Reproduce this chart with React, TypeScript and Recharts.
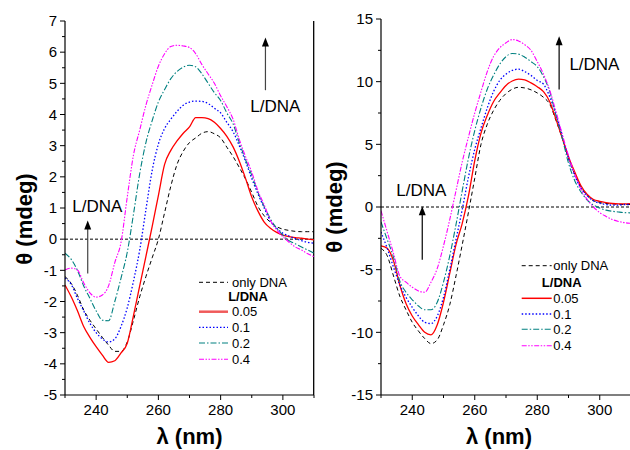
import React from 'react';
import { LineChart, Line, XAxis, YAxis, ReferenceLine, ReferenceDot, Legend } from 'recharts';

const wavelength = [230, 232, 234, 236, 238, 240, 242, 244, 246, 248, 250, 252, 254, 256, 258, 260, 262, 264, 266, 268, 270, 272, 274, 276, 278, 280, 282, 284, 286, 288, 290, 292, 294, 296, 298, 300, 302, 304, 306, 308, 310];

// Left panel
const leftOnlyDNA = [-1.2, -1.42, -1.8, -2.27, -2.6, -2.88, -3.15, -3.4, -3.6, -3.6, -3.3, -2.6, -1.85, -1.2, -0.6, 0.0, 0.85, 1.7, 2.4, 2.82, 3.1, 3.25, 3.4, 3.45, 3.38, 3.25, 2.95, 2.65, 2.3, 1.93, 1.5, 1.05, 0.75, 0.54, 0.4, 0.32, 0.28, 0.25, 0.24, 0.24, 0.24];
const left005 = [-1.47, -1.85, -2.3, -2.8, -3.15, -3.45, -3.72, -3.95, -3.9, -3.65, -3.34, -2.45, -1.5, -0.55, 0.4, 1.4, 2.4, 2.85, 3.15, 3.4, 3.6, 3.9, 3.9, 3.87, 3.75, 3.55, 3.3, 2.96, 2.5, 1.95, 1.35, 0.9, 0.55, 0.35, 0.22, 0.13, 0.08, 0.05, 0.03, 0.0, -0.02];
const left01 = [-1.25, -1.45, -1.9, -2.3, -2.7, -3.0, -3.2, -3.3, -3.2, -2.8, -2.2, -1.35, -0.35, 0.95, 2.2, 3.05, 3.55, 3.85, 4.1, 4.3, 4.4, 4.43, 4.42, 4.35, 4.2, 4.05, 3.75, 3.45, 3.0, 2.5, 1.95, 1.45, 1.0, 0.58, 0.35, 0.19, 0.1, 0.02, -0.05, -0.1, -0.13];
const left02 = [-0.45, -0.65, -1.0, -1.5, -1.9, -2.3, -2.6, -2.62, -2.0, -1.25, -0.42, 0.8, 2.1, 3.1, 3.8, 4.4, 4.8, 5.15, 5.38, 5.52, 5.58, 5.53, 5.3, 5.0, 4.7, 4.45, 4.05, 3.7, 3.1, 2.55, 2.05, 1.5, 1.05, 0.65, 0.35, 0.13, -0.05, -0.15, -0.25, -0.35, -0.45];
const left04 = [-0.99, -0.93, -0.99, -1.4, -1.72, -1.86, -1.79, -1.5, -0.75, -0.1, 1.35, 2.7, 3.5, 4.3, 4.95, 5.55, 5.95, 6.18, 6.22, 6.2, 6.15, 5.95, 5.6, 5.3, 5.0, 4.6, 4.25, 3.85, 3.2, 2.65, 2.15, 1.55, 1.1, 0.6, 0.3, 0.08, -0.1, -0.25, -0.35, -0.47, -0.56];

// Right panel
const rightOnlyDNA = [-3.3, -3.9, -5.5, -7.1, -8.2, -9.2, -9.9, -10.5, -10.9, -10.6, -9.4, -7.8, -5.5, -3.0, -0.4, 2.3, 5.0, 6.6, 7.7, 8.5, 9.05, 9.4, 9.55, 9.5, 9.35, 9.1, 8.75, 8.2, 6.9, 5.5, 3.9, 2.6, 1.6, 0.9, 0.5, 0.35, 0.28, 0.25, 0.22, 0.2, 0.2];
const right005 = [-3.1, -3.3, -4.3, -6.2, -7.7, -8.7, -9.4, -10.0, -10.2, -9.4, -7.6, -5.3, -3.0, -1.3, 0.9, 3.7, 5.9, 7.3, 8.4, 9.1, 9.7, 10.05, 10.2, 10.15, 9.9, 9.6, 9.2, 8.4, 7.0, 5.5, 4.0, 2.8, 1.7, 1.0, 0.6, 0.45, 0.35, 0.28, 0.25, 0.25, 0.27];
const right01 = [-2.0, -3.3, -4.8, -6.2, -7.2, -8.0, -8.7, -9.2, -9.3, -8.7, -7.2, -5.0, -2.6, -0.2, 2.4, 4.6, 6.3, 7.9, 9.2, 10.1, 10.6, 10.9, 11.0, 10.8, 10.5, 10.1, 9.8, 8.8, 7.4, 5.7, 3.9, 2.5, 1.5, 0.9, 0.5, 0.3, 0.2, 0.15, 0.15, 0.2, 0.2];
const right02 = [-1.2, -2.6, -4.0, -5.9, -6.8, -7.4, -7.9, -8.2, -8.2, -7.6, -6.0, -3.9, -1.4, 1.3, 3.9, 6.1, 7.9, 9.4, 10.5, 11.4, 12.0, 12.25, 12.2, 11.95, 11.6, 11.2, 10.4, 9.2, 7.3, 5.5, 3.5, 2.1, 1.2, 0.55, 0.15, -0.08, -0.25, -0.34, -0.4, -0.45, -0.47];
const right04 = [-0.3, -2.0, -3.7, -5.5, -6.0, -6.4, -6.7, -6.8, -6.0, -4.9, -3.1, -1.0, 1.3, 3.6, 5.6, 7.5, 9.2, 10.8, 12.0, 12.7, 13.1, 13.36, 13.25, 12.95, 12.5, 11.6, 10.6, 9.3, 7.6, 5.8, 4.1, 2.6, 1.4, 0.6, 0.0, -0.45, -0.75, -1.0, -1.15, -1.25, -1.3];

const xAllTicks = [230, 240, 250, 260, 270, 280, 290, 300, 310];
const xMajorTicks = [240, 260, 280, 300];
const leftYAll = [-5, -4.5, -4, -3.5, -3, -2.5, -2, -1.5, -1, -0.5, 0, 0.5, 1, 1.5, 2, 2.5, 3, 3.5, 4, 4.5, 5, 5.5, 6, 6.5, 7];
const leftYMajor = [-5, -4, -3, -2, -1, 0, 1, 2, 3, 4, 5, 6, 7];
const rightYAll = [-15, -12.5, -10, -7.5, -5, -2.5, 0, 2.5, 5, 7.5, 10, 12.5, 15];
const rightYMajor = [-15, -10, -5, 0, 5, 10, 15];

const legendLabels = ['only DNA', '0.05', '0.1', '0.2', '0.4'];
const legendTitle = 'L/DNA';
const annotationText = 'L/DNA';
const xTitle = 'λ (nm)';
const yTitle = 'θ (mdeg)';

const FONT = 'Liberation Sans, Arial, Helvetica, sans-serif';

const seriesKeys = ['s0', 's1', 's2', 's3', 's4'];
const seriesStyles = [
  { stroke: '#000000', dash: '4 3', width: 1 },
  { stroke: '#ff0000', dash: undefined as string | undefined, width: 1.3 },
  { stroke: '#0000ff', dash: '1.5 2', width: 1.3 },
  { stroke: '#008080', dash: '6 2 1.5 2', width: 1.1 },
  { stroke: '#ff00ff', dash: '5 1.5 1.5 1.5 1.5 1.5', width: 1.1 },
];

const buildRows = (series: number[][]) =>
  wavelength.map((w, i) => {
    const row: Record<string, number> = { w };
    series.forEach((s, k) => {
      row[seriesKeys[k]] = s[i];
    });
    return row;
  });

const leftRows = buildRows([leftOnlyDNA, left005, left01, left02, left04]);
const rightRows = buildRows([rightOnlyDNA, right005, right01, right02, right04]);

const renderXTick = (p: any) => {
  const { x, y, payload } = p;
  const major = xMajorTicks.includes(payload.value);
  return (
    <g>
      <line x1={x} y1={y} x2={x} y2={y + (major ? 5 : 3)} stroke="#000" strokeWidth={1} />
      {major && (
        <text x={x} y={y + 20} textAnchor="middle" fontSize={15} fontFamily={FONT} fill="#000">
          {payload.value}
        </text>
      )}
    </g>
  );
};

const makeYTick = (majors: number[]) => (p: any) => {
  const { x, y, payload } = p;
  const major = majors.includes(payload.value);
  return (
    <g>
      <line x1={x} y1={y} x2={x - (major ? 5 : 3)} y2={y} stroke="#000" strokeWidth={1} />
      {major && (
        <text x={x - 8} y={y + 5.3} textAnchor="end" fontSize={15} fontFamily={FONT} fill="#000">
          {payload.value}
        </text>
      )}
    </g>
  );
};

const arrowShape = (color: string) => (p: any) => {
  const { x1, y1, y2 } = p;
  const tip = Math.min(y1, y2);
  const base = Math.max(y1, y2);
  return (
    <g>
      <line x1={x1} y1={base} x2={x1} y2={tip + 6} stroke={color} strokeWidth={1.2} />
      <polygon points={`${x1},${tip} ${x1 - 3.5},${tip + 9} ${x1 + 3.5},${tip + 9}`} fill="#000" />
    </g>
  );
};

const borderShape = (p: any) => (
  <line x1={p.x1} y1={p.y1} x2={p.x2} y2={p.y2} stroke="#000" strokeWidth={1.3} />
);

const textShape = (p: any) => (
  <text x={p.cx} y={p.cy} textAnchor="middle" fontSize={17} fontFamily={FONT} fill="#000">
    {annotationText}
  </text>
);

type LegendCfg = {
  left: number;
  top: number;
  rowsY: number[];
  lineX1: number;
  lineX2: number;
  textX: number;
  titleX: number;
  redWidth: number;
  redColor: string;
};

const LegendBox = ({ cfg }: { cfg: LegendCfg }) => {
  const itemRows = [0, 2, 3, 4, 5];
  return (
    <svg width={130} height={100} style={{ display: 'block' }}>
      <text x={cfg.titleX} y={cfg.rowsY[1] + 4.6} textAnchor="middle" fontSize={13} fontWeight="bold" fontFamily={FONT} fill="#000">
        {legendTitle}
      </text>
      {legendLabels.map((lab, i) => {
        const st = seriesStyles[i];
        const y = cfg.rowsY[itemRows[i]];
        return (
          <g key={lab}>
            <line
              x1={cfg.lineX1}
              x2={cfg.lineX2}
              y1={y}
              y2={y}
              stroke={i === 1 ? cfg.redColor : st.stroke}
              strokeWidth={i === 1 ? cfg.redWidth : st.width}
              strokeDasharray={st.dash}
            />
            <text x={cfg.textX} y={y + 4.6} fontSize={13} fontFamily={FONT} fill="#000">
              {lab}
            </text>
          </g>
        );
      })}
    </svg>
  );
};

type Arrow = { x: number; from: number; to: number; color: string };
type Note = { x: number; y: number };

type PanelProps = {
  left: number;
  width: number;
  top: number;
  rightMargin: number;
  yAxisWidth: number;
  rows: Record<string, number>[];
  yDomain: [number, number];
  yAll: number[];
  yMajor: number[];
  yTitleX: number;
  yTitleY: number;
  xTitleX: number;
  arrows: Arrow[];
  notes: Note[];
  legend: LegendCfg;
  borderColor: string;
  rightBorder: boolean;
};

const Panel = (props: PanelProps) => {
  const { left, width, top, rightMargin, yAxisWidth, rows, yDomain, yAll, yMajor, yTitleX, yTitleY, xTitleX, arrows, notes, legend, borderColor, rightBorder } = props;
  return (
    <div style={{ position: 'absolute', left, top: 0 }}>
      <LineChart width={width} height={450} data={rows} margin={{ top, right: rightMargin, bottom: 0, left: 0 }}>
        <XAxis
          dataKey="w"
          type="number"
          domain={[230, 310]}
          ticks={xAllTicks}
          interval={0}
          tickSize={0}
          tickMargin={0}
          tickLine={false}
          axisLine={{ stroke: '#000', strokeWidth: 1.2 }}
          tick={renderXTick}
          height={55}
          allowDataOverflow
          label={{
            content: (lp: any) => {
              const vb = lp.viewBox || { x: 0, y: 0 };
              return (
                <text x={xTitleX - left} y={vb.y + 49} textAnchor="middle" fontSize={22} fontWeight="bold" fontFamily={FONT} fill="#000">
                  {xTitle}
                </text>
              );
            },
          }}
        />
        <XAxis xAxisId="top" orientation="top" type="number" domain={[230, 310]} height={0} tick={false} tickLine={false} axisLine={{ stroke: borderColor, strokeWidth: 1.2 }} />
        <YAxis
          type="number"
          domain={yDomain}
          ticks={yAll}
          interval={0}
          tickSize={0}
          tickMargin={0}
          tickLine={false}
          axisLine={{ stroke: '#000', strokeWidth: 1.2 }}
          tick={makeYTick(yMajor)}
          width={yAxisWidth}
          allowDataOverflow
          label={{
            content: () => (
              <text
                x={yTitleX - left}
                y={yTitleY}
                transform={`rotate(-90 ${yTitleX - left} ${yTitleY})`}
                textAnchor="middle"
                dominantBaseline="central"
                fontSize={22}
                fontWeight="bold"
                fontFamily={FONT}
                fill="#000"
              >
                {yTitle}
              </text>
            ),
          }}
        />
        <ReferenceLine y={0} stroke="#000" strokeWidth={1} strokeDasharray="3 2" />
        {rightBorder && (
          <ReferenceLine
            segment={[
              { x: 309.9, y: yDomain[0] },
              { x: 309.9, y: yDomain[1] },
            ]}
            ifOverflow="visible"
            stroke="#000"
            shape={borderShape}
          />
        )}
        {seriesKeys.map((k, i) => (
          <Line
            key={k}
            dataKey={k}
            type="monotone"
            dot={false}
            activeDot={false}
            stroke={seriesStyles[i].stroke}
            strokeWidth={seriesStyles[i].width}
            strokeDasharray={seriesStyles[i].dash}
            isAnimationActive={false}
          />
        ))}
        {arrows.map((a, i) => (
          <ReferenceLine
            key={'a' + i}
            segment={[
              { x: a.x, y: a.from },
              { x: a.x, y: a.to },
            ]}
            stroke={a.color}
            shape={arrowShape(a.color)}
          />
        ))}
        {notes.map((n, i) => (
          <ReferenceDot key={'n' + i} x={n.x} y={n.y} r={1} shape={textShape} />
        ))}
        <Legend
          layout="horizontal"
          verticalAlign="middle"
          align="center"
          wrapperStyle={{ left: legend.left - left, top: legend.top, width: 130, height: 100 }}
          content={() => <LegendBox cfg={legend} />}
        />
      </LineChart>
    </div>
  );
};

export default function App() {
  return (
    <div style={{ position: 'absolute', left: 0, top: 0, width: 630, height: 450, overflow: 'hidden', background: '#fff', fontFamily: FONT }}>
      <Panel
        left={0}
        width={318}
        rightMargin={4}
        top={21}
        yAxisWidth={65}
        rows={leftRows}
        yDomain={[-5, 7]}
        yAll={leftYAll}
        yMajor={leftYMajor}
        yTitleX={24}
        yTitleY={219}
        xTitleX={189.5}
        arrows={[
          { x: 237.3, from: -1.1, to: 0.6, color: '#444' },
          { x: 294.4, from: 4.78, to: 6.47, color: '#444' },
        ]}
        notes={[
          { x: 240.4, y: 0.87 },
          { x: 297.6, y: 4.09 },
        ]}
        legend={{
          left: 198,
          top: 274,
          rowsY: [8.3, 22.7, 37.7, 53.3, 69, 85.3],
          lineX1: 1,
          lineX2: 30,
          textX: 34,
          titleX: 50,
          redWidth: 2.5,
          redColor: '#f05a5a',
        }}
        borderColor="#000"
        rightBorder={true}
      />
      <Panel
        left={315}
        width={316}
        rightMargin={0}
        top={19}
        yAxisWidth={66}
        rows={rightRows}
        yDomain={[-15, 15]}
        yAll={rightYAll}
        yMajor={rightYMajor}
        yTitleX={334}
        yTitleY={207}
        xTitleX={499}
        arrows={[
          { x: 243.2, from: -4.2, to: 0.06, color: '#000' },
          { x: 287, from: 9.37, to: 13.63, color: '#000' },
        ]}
        notes={[
          { x: 242.9, y: 0.85 },
          { x: 298.3, y: 10.97 },
        ]}
        legend={{
          left: 520,
          top: 258,
          rowsY: [7.7, 24.3, 40.3, 56, 71.3, 87.7],
          lineX1: 1.7,
          lineX2: 31.7,
          textX: 33.3,
          titleX: 41.7,
          redWidth: 1.5,
          redColor: '#ff0000',
        }}
        borderColor="#555"
        rightBorder={false}
      />
    </div>
  );
}
